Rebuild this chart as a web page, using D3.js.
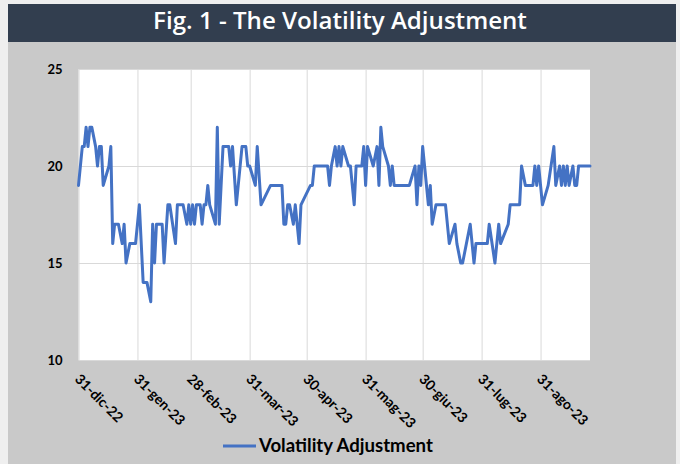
<!DOCTYPE html>
<html>
<head>
<meta charset="utf-8">
<script src="https://cdn.jsdelivr.net/npm/d3@7/dist/d3.min.js"></script>
<style>
  html, body { margin: 0; padding: 0; background: #efefef; }
  svg { display: block; }
  .tick-label { font-family: Lato, 'Open Sans', sans-serif; font-weight: 700; fill: #000; }
</style>
</head>
<body>
<svg id="chart" width="680" height="464"></svg>
<script>
// month-end ticks on the x axis (Italian labels, as in the source)
const tickDates = ['2022-12-31', '2023-01-31', '2023-02-28', '2023-03-31', '2023-04-30',
  '2023-05-31', '2023-06-30', '2023-07-31', '2023-08-31'];
const tickLabels = ['31-dic-22', '31-gen-23', '28-feb-23', '31-mar-23', '30-apr-23',
  '31-mag-23', '30-giu-23', '31-lug-23', '31-ago-23'];
const yTicks = [10, 15, 20, 25];

// volatility adjustment (bps)
const dates = [
  '2022-12-31', '2023-01-02', '2023-01-03', '2023-01-04', '2023-01-05', '2023-01-06', '2023-01-07',
  '2023-01-09', '2023-01-10', '2023-01-11', '2023-01-12', '2023-01-13', '2023-01-16', '2023-01-17',
  '2023-01-18', '2023-01-19', '2023-01-21', '2023-01-23', '2023-01-24', '2023-01-25', '2023-01-27',
  '2023-01-30', '2023-02-01', '2023-02-03', '2023-02-05', '2023-02-07', '2023-02-08', '2023-02-09',
  '2023-02-10', '2023-02-13', '2023-02-14', '2023-02-16', '2023-02-17', '2023-02-20', '2023-02-21',
  '2023-02-24', '2023-02-26', '2023-02-27', '2023-02-28', '2023-03-01', '2023-03-02', '2023-03-03',
  '2023-03-05', '2023-03-06', '2023-03-07', '2023-03-08', '2023-03-09', '2023-03-10', '2023-03-13',
  '2023-03-14', '2023-03-15', '2023-03-17', '2023-03-20', '2023-03-21', '2023-03-22', '2023-03-24',
  '2023-03-27', '2023-03-29', '2023-03-30', '2023-03-31', '2023-04-03', '2023-04-04', '2023-04-06',
  '2023-04-11', '2023-04-17', '2023-04-18', '2023-04-19', '2023-04-20', '2023-04-21', '2023-04-23',
  '2023-04-24', '2023-04-26', '2023-04-27', '2023-05-02', '2023-05-03', '2023-05-04', '2023-05-11',
  '2023-05-12', '2023-05-13', '2023-05-15', '2023-05-16', '2023-05-17', '2023-05-18', '2023-05-19',
  '2023-05-22', '2023-05-23', '2023-05-25', '2023-05-26', '2023-05-28', '2023-05-29', '2023-05-30',
  '2023-05-31', '2023-06-01', '2023-06-04', '2023-06-06', '2023-06-07', '2023-06-08', '2023-06-09',
  '2023-06-12', '2023-06-13', '2023-06-14', '2023-06-15', '2023-06-23', '2023-06-26', '2023-06-27',
  '2023-06-28', '2023-06-29', '2023-06-30', '2023-07-01', '2023-07-03', '2023-07-04', '2023-07-05',
  '2023-07-07', '2023-07-12', '2023-07-14', '2023-07-17', '2023-07-18', '2023-07-20', '2023-07-21',
  '2023-07-25', '2023-07-27', '2023-07-28', '2023-08-03', '2023-08-04', '2023-08-07', '2023-08-09',
  '2023-08-10', '2023-08-14', '2023-08-15', '2023-08-20', '2023-08-21', '2023-08-23', '2023-08-27',
  '2023-08-28', '2023-08-29', '2023-08-30', '2023-08-31', '2023-09-01', '2023-09-04', '2023-09-07',
  '2023-09-08', '2023-09-10', '2023-09-11', '2023-09-12', '2023-09-13', '2023-09-14', '2023-09-15',
  '2023-09-17', '2023-09-18', '2023-09-19', '2023-09-20', '2023-09-26',
];
const values = [
  19, 21, 21, 22, 21, 22, 22,
  21, 20, 21, 21, 19, 20, 21,
  16, 17, 17, 16, 17, 15, 16,
  16, 18, 14, 14, 13, 17, 15,
  17, 17, 15, 18, 18, 16, 18,
  18, 17, 18, 17, 18, 17, 18,
  18, 17, 18, 18, 19, 18, 17,
  22, 17, 21, 21, 20, 21, 18,
  21, 21, 20, 20, 19, 21, 18,
  19, 19, 17, 17, 18, 18, 17,
  18, 16, 18, 19, 19, 20, 20,
  19, 20, 21, 20, 21, 20, 21,
  20, 20, 18, 20, 20, 20, 21,
  19, 21, 20, 21, 19, 22, 21,
  20, 19, 20, 19, 19, 20, 18,
  20, 19, 21, 20, 18, 19, 17,
  18, 18, 16, 17, 16, 15, 15,
  17, 15, 16, 16, 17, 15, 17,
  16, 17, 18, 18, 20, 19, 19,
  20, 19, 20, 19, 18, 19, 21,
  19, 20, 19, 20, 19, 20, 19,
  20, 19, 19, 20, 20,
];

const seriesName = 'Volatility Adjustment';
const title = 'Fig. 1 - The Volatility Adjustment';

const parseDate = d3.utcParse('%Y-%m-%d');
const points = dates.map((d, i) => ({ date: parseDate(d), value: values[i] }));

const svg = d3.select('#chart');
const plot = { left: 78.5, right: 590, top: 69, bottom: 360 };

// scale a text's font so it spans the given width
function fitWidth(text, width) {
  const size = parseFloat(text.style('font-size'));
  const len = text.node().getComputedTextLength();
  text.style('font-size', `${(size * width) / len}px`);
}

// panel and title bar
svg.append('rect').attr('x', 8).attr('y', 42).attr('width', 668).attr('height', 422).attr('fill', '#c9c9c9');
svg.append('rect').attr('x', 8).attr('y', 4).attr('width', 668).attr('height', 38).attr('fill', '#323e4f');
const titleText = svg.append('text')
  .attr('x', 340).attr('y', 29)
  .attr('text-anchor', 'middle')
  .attr('fill', '#fff')
  .style('font-family', "'Open Sans', Lato, sans-serif")
  .style('font-weight', 600)
  .style('font-size', '20px')
  .text(title);
fitWidth(titleText, 374);

svg.append('rect')
  .attr('x', plot.left).attr('y', plot.top)
  .attr('width', plot.right - plot.left).attr('height', plot.bottom - plot.top)
  .attr('fill', '#fff');

const x = d3.scaleUtc()
  .domain([parseDate('2022-12-31'), parseDate('2023-09-26')])
  .range([plot.left, plot.right]);
const y = d3.scaleLinear().domain([10, 25]).range([plot.bottom, plot.top]);

// y axis + horizontal gridlines
const yAxis = svg.append('g')
  .attr('transform', `translate(${plot.left},0)`)
  .call(d3.axisLeft(y).tickValues(yTicks).tickSize(-(plot.right - plot.left)).tickPadding(16));
yAxis.select('.domain').remove();
yAxis.selectAll('line').attr('stroke', '#d9d9d9').attr('stroke-width', 1);
yAxis.selectAll('text').attr('class', 'tick-label').style('font-size', '13px');

// x axis + vertical gridlines
const xAxis = svg.append('g')
  .attr('transform', `translate(0,${plot.bottom})`)
  .call(d3.axisBottom(x)
    .tickValues(tickDates.map(parseDate))
    .tickFormat((d, i) => tickLabels[i])
    .tickSize(-(plot.bottom - plot.top)));
xAxis.select('.domain').remove();
xAxis.selectAll('line').attr('stroke', '#d9d9d9').attr('stroke-width', 1);
xAxis.selectAll('text')
  .attr('class', 'tick-label')
  .style('font-size', '14px')
  .attr('x', 0).attr('y', 0).attr('dy', 0)
  .attr('text-anchor', 'start')
  .attr('transform', 'translate(-5,20) rotate(45)');

// the series
const line = d3.line().x((d) => x(d.date)).y((d) => y(d.value));
svg.append('path')
  .datum(points)
  .attr('d', line)
  .attr('fill', 'none')
  .attr('stroke', '#4472c4')
  .attr('stroke-width', 3)
  .attr('stroke-linejoin', 'round')
  .attr('stroke-linecap', 'round');

// legend
const legend = svg.append('g').attr('transform', 'translate(223,446)');
legend.append('line').attr('x1', 0).attr('x2', 33).attr('y1', 0).attr('y2', 0)
  .attr('stroke', '#4472c4').attr('stroke-width', 3);
const legendText = legend.append('text')
  .attr('x', 36).attr('y', 6)
  .style('font-family', "Lato, 'Open Sans', sans-serif")
  .style('font-weight', 700)
  .style('font-size', '18px')
  .attr('fill', '#000')
  .text(seriesName);
fitWidth(legendText, 174);
</script>
</body>
</html>
